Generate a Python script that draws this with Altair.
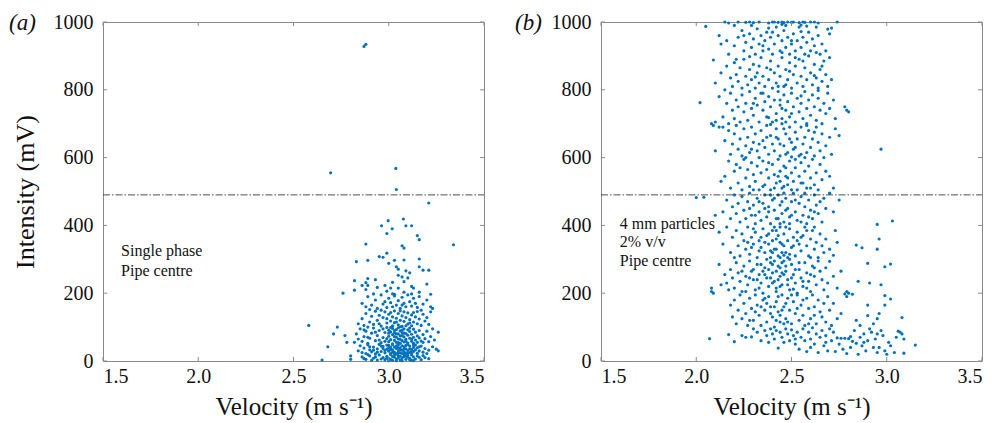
import altair as alt
import pandas as pd

# ---------------- data ----------------
x_ticks = [1.5, 2.0, 2.5, 3.0, 3.5]
y_ticks = [0, 200, 400, 600, 800, 1000]
threshold = 490

# Panel (a): single phase
a_outliers = [(2.87, 928), (2.88, 934), (2.695, 555), (3.037, 568), (3.04, 506), (3.21, 466),
              (3.34, 343), (2.58, 105), (2.65, 3), (2.68, 42), (2.71, 80), (2.73, 100),
              (2.76, 200), (2.77, 75), (2.78, 55), (2.80, 15), (2.80, 5)]
a_upper = [(2.962, 399), (2.997, 414), (3.018, 390), (2.99, 376), (3.077, 419), (3.09, 399),
           (3.12, 399), (3.15, 370), (3.16, 358), (2.88, 345), (3.07, 340), (3.08, 333),
           (2.99, 318), (2.95, 308), (2.97, 306), (2.83, 293), (2.89, 297), (3.03, 297),
           (3.08, 298), (3.16, 301), (3.00, 288), (3.04, 278), (3.16, 278), (3.05, 271),
           (3.09, 266), (3.11, 260), (3.18, 268), (3.21, 268), (3.05, 253), (3.07, 248),
           (2.89, 243), (3.10, 245), (2.82, 237), (2.93, 240), (2.88, 231), (3.02, 232),
           (3.08, 234), (2.86, 223), (2.98, 223), (2.89, 223), (2.94, 217), (3.01, 215),
           (3.05, 215), (3.12, 220), (3.20, 227), (3.13, 215), (2.82, 209), (2.88, 211),
           (2.99, 206), (3.03, 197), (3.08, 203), (3.16, 203), (3.22, 197)]
a_mid = [(2.86, 170), (2.88, 160), (2.89, 190), (2.91, 165), (2.93, 180), (2.94, 155), (2.96, 195),
         (2.97, 168), (2.99, 158), (3.00, 185), (3.01, 172), (3.02, 160), (3.03, 192), (3.04, 165),
         (3.05, 178), (3.06, 155), (3.07, 188), (3.08, 170), (3.09, 160), (3.10, 195), (3.11, 175),
         (3.12, 162), (3.13, 185), (3.14, 170), (3.15, 158), (3.16, 190), (3.18, 168), (3.20, 180),
         (3.22, 160), (2.90, 152), (3.02, 198), (3.12, 198), (2.98, 175), (3.07, 165), (2.92, 198),
         (2.84, 110), (2.86, 125), (2.87, 105), (2.88, 140), (2.90, 115), (2.91, 132), (2.92, 108),
         (2.93, 147), (2.94, 120), (2.95, 135), (2.96, 103), (2.97, 128), (2.98, 145), (2.99, 112),
         (3.00, 138), (3.01, 118), (3.02, 104), (3.02, 130), (3.03, 148), (3.04, 115), (3.04, 126),
         (3.05, 107), (3.05, 140), (3.06, 120), (3.07, 133), (3.07, 102), (3.08, 145), (3.08, 117),
         (3.09, 128), (3.10, 109), (3.10, 142), (3.11, 122), (3.12, 136), (3.12, 104), (3.13, 115),
         (3.14, 130), (3.15, 110), (3.15, 146), (3.16, 124), (3.17, 105), (3.18, 138), (3.19, 118),
         (3.20, 128), (3.21, 108), (3.22, 145), (3.23, 155), (2.96, 150), (3.01, 143), (3.06, 148),
         (3.09, 104), (3.13, 143), (2.99, 125), (3.03, 113), (3.11, 112), (2.89, 100), (3.17, 150),
         (3.06, 101), (2.95, 110)]
a_core = [(2.82, 55), (2.83, 80), (2.84, 65), (2.85, 95), (2.86, 58), (2.87, 72), (2.88, 88),
          (2.89, 52), (2.90, 67), (2.91, 82), (2.92, 97), (2.93, 60), (2.94, 75), (2.95, 90),
          (2.96, 54), (2.97, 69), (2.98, 84), (2.99, 99), (3.00, 57), (3.00, 73), (3.00, 91),
          (3.01, 63), (3.01, 86), (3.02, 51), (3.02, 78), (3.02, 96), (3.03, 61), (3.03, 83),
          (3.04, 55), (3.04, 70), (3.04, 93), (3.05, 65), (3.05, 80), (3.05, 98), (3.06, 52),
          (3.06, 74), (3.06, 89), (3.07, 60), (3.07, 84), (3.08, 56), (3.08, 71), (3.08, 95),
          (3.09, 64), (3.09, 81), (3.10, 53), (3.10, 76), (3.10, 92), (3.11, 67), (3.11, 87),
          (3.12, 58), (3.12, 79), (3.13, 70), (3.13, 94), (3.14, 62), (3.14, 85), (3.15, 55),
          (3.15, 74), (3.16, 68), (3.16, 90), (3.17, 59), (3.18, 78), (3.19, 66), (3.20, 88),
          (3.21, 57), (3.22, 72), (3.24, 62), (3.26, 85), (3.23, 95), (2.95, 62), (2.97, 95),
          (2.99, 66), (3.01, 99), (3.03, 72), (3.05, 54), (3.07, 91), (3.09, 58), (3.11, 97),
          (3.13, 52), (3.03, 90), (2.93, 85), (2.89, 70), (3.07, 75), (2.98, 58), (3.12, 65),
          (2.87, 92), (3.06, 64), (3.18, 55), (3.00, 82), (3.04, 80), (3.08, 82),
          (2.84, 30), (2.85, 45), (2.86, 25), (2.87, 38), (2.88, 22), (2.89, 48), (2.90, 33),
          (2.91, 27), (2.92, 41), (2.93, 21), (2.94, 36), (2.95, 49), (2.96, 28), (2.97, 43),
          (2.98, 24), (2.99, 35), (3.00, 46), (3.00, 29), (3.01, 22), (3.01, 40), (3.02, 33),
          (3.02, 48), (3.03, 26), (3.03, 41), (3.04, 21), (3.04, 37), (3.05, 30), (3.05, 47),
          (3.06, 24), (3.06, 39), (3.07, 32), (3.07, 45), (3.08, 27), (3.08, 42), (3.09, 23),
          (3.09, 36), (3.10, 31), (3.10, 49), (3.11, 25), (3.11, 44), (3.12, 34), (3.12, 22),
          (3.13, 40), (3.13, 28), (3.14, 47), (3.14, 33), (3.15, 23), (3.15, 39), (3.16, 30),
          (3.17, 44), (3.18, 26), (3.19, 37), (3.20, 22), (3.21, 32), (3.23, 42), (3.25, 35),
          (2.98, 31), (2.96, 44), (3.01, 34), (3.04, 45), (3.06, 33), (3.08, 35), (3.03, 21),
          (2.99, 47), (3.02, 26), (3.05, 38), (3.07, 22), (3.09, 46), (3.11, 36), (2.94, 26),
          (2.92, 32), (3.00, 38), (3.10, 24), (3.13, 47), (3.16, 42), (2.90, 42), (3.05, 24),
          (2.97, 37), (3.12, 29), (3.26, 30),
          (2.86, 12), (2.88, 5), (2.90, 15), (2.92, 8), (2.94, 3), (2.95, 18), (2.97, 10),
          (2.98, 4), (2.99, 14), (3.00, 7), (3.01, 19), (3.02, 2), (3.03, 11), (3.04, 6),
          (3.05, 16), (3.06, 3), (3.07, 9), (3.08, 13), (3.09, 5), (3.10, 17), (3.11, 8),
          (3.12, 2), (3.13, 12), (3.14, 6), (3.15, 15), (3.17, 4), (3.19, 10), (3.21, 7),
          (2.89, 19), (2.93, 12), (2.96, 6), (3.00, 1), (3.03, 18), (3.05, 9), (3.07, 1),
          (3.09, 15), (3.12, 18), (3.16, 11), (3.02, 13), (3.06, 14), (2.91, 2), (3.11, 4),
          (3.04, 1), (2.99, 8), (3.08, 19), (3.13, 1), (3.18, 16), (2.87, 7), (3.01, 5), (3.10, 11)]

# Panel (b): 4 mm particles, 2% v/v
b_top = [(2.15, 1000), (2.22, 1000), (2.26, 999), (2.28, 1000), (2.30, 998), (2.33, 1000),
         (2.38, 997), (2.40, 1000), (2.41, 1000), (2.43, 999), (2.45, 1000), (2.46, 998),
         (2.48, 1000), (2.50, 999), (2.51, 1000), (2.54, 998), (2.56, 1000), (2.57, 999),
         (2.60, 1000), (2.62, 1000), (2.64, 997), (2.74, 1000),
         (2.05, 987), (2.17, 997), (2.20, 990), (2.45, 993), (2.55, 991), (2.63, 985),
         (2.71, 982), (2.69, 979)]
b_900 = [(2.12, 960), (2.13, 935), (2.16, 945), (2.17, 905), (2.20, 930), (2.22, 955), (2.24, 975),
         (2.25, 915), (2.26, 940), (2.28, 965), (2.29, 925), (2.30, 950), (2.31, 905), (2.32, 980),
         (2.33, 935), (2.34, 960), (2.35, 915), (2.36, 945), (2.37, 970), (2.38, 920), (2.39, 955),
         (2.40, 905), (2.41, 935), (2.42, 985), (2.43, 960), (2.44, 915), (2.45, 945), (2.46, 975),
         (2.47, 925), (2.48, 955), (2.49, 905), (2.50, 935), (2.51, 965), (2.52, 915), (2.53, 945),
         (2.54, 985), (2.55, 925), (2.56, 955), (2.57, 905), (2.58, 940), (2.59, 970), (2.60, 915),
         (2.61, 950), (2.62, 930), (2.63, 910), (2.64, 960), (2.65, 905), (2.66, 935), (2.68, 915),
         (2.70, 965), (2.29, 990), (2.38, 982), (2.47, 990), (2.58, 988), (2.25, 960), (2.40, 970),
         (2.50, 945), (2.35, 930), (2.45, 910), (2.55, 972), (2.09, 888)]
b_800 = [(2.10, 820), (2.13, 850), (2.15, 800), (2.16, 870), (2.18, 835), (2.19, 810), (2.20, 880),
         (2.21, 845), (2.22, 825), (2.23, 865), (2.24, 805), (2.25, 890), (2.26, 840), (2.27, 815),
         (2.28, 860), (2.29, 830), (2.30, 875), (2.31, 805), (2.32, 850), (2.33, 820), (2.34, 895),
         (2.35, 840), (2.36, 810), (2.37, 865), (2.38, 830), (2.39, 885), (2.40, 805), (2.41, 850),
         (2.42, 820), (2.43, 870), (2.44, 840), (2.45, 895), (2.46, 810), (2.47, 860), (2.48, 830),
         (2.49, 880), (2.50, 805), (2.51, 845), (2.52, 870), (2.53, 820), (2.54, 890), (2.55, 840),
         (2.56, 810), (2.57, 865), (2.58, 830), (2.59, 900), (2.60, 850), (2.61, 815), (2.62, 875),
         (2.63, 835), (2.64, 805), (2.65, 860), (2.66, 825), (2.67, 885), (2.68, 845), (2.69, 810),
         (2.70, 895), (2.66, 870), (2.28, 898), (2.39, 860), (2.47, 815), (2.56, 885), (2.33, 870),
         (2.43, 810), (2.52, 895), (2.62, 842), (2.21, 890), (2.71, 830), (2.31, 838), (2.49, 855)]
b_700 = [(2.08, 700), (2.10, 705), (2.12, 780), (2.14, 720), (2.16, 760), (2.17, 700), (2.18, 790),
         (2.19, 740), (2.20, 715), (2.21, 770), (2.22, 750), (2.23, 705), (2.24, 785), (2.25, 735),
         (2.26, 760), (2.27, 710), (2.28, 795), (2.29, 745), (2.30, 725), (2.31, 775), (2.32, 755),
         (2.33, 705), (2.34, 790), (2.35, 740), (2.36, 765), (2.37, 720), (2.38, 780), (2.39, 750),
         (2.40, 705), (2.41, 770), (2.42, 730), (2.43, 795), (2.44, 755), (2.45, 715), (2.46, 785),
         (2.47, 740), (2.48, 765), (2.49, 720), (2.50, 790), (2.51, 750), (2.52, 705), (2.53, 775),
         (2.54, 735), (2.55, 760), (2.56, 715), (2.57, 795), (2.58, 745), (2.59, 770), (2.60, 725),
         (2.61, 785), (2.62, 750), (2.63, 710), (2.64, 775), (2.65, 740), (2.66, 700), (2.67, 760),
         (2.68, 730), (2.69, 790), (2.70, 745), (2.72, 770), (2.73, 715), (2.42, 710), (2.45, 745),
         (2.47, 705), (2.38, 718), (2.35, 790), (2.50, 730), (2.55, 782), (2.44, 770), (2.30, 760),
         (2.58, 700), (2.64, 798), (2.02, 762), (2.78, 750), (2.79, 740), (2.80, 735), (2.09, 695),
         (2.14, 690)]
b_600 = [(2.10, 620), (2.12, 690), (2.15, 650), (2.17, 680), (2.18, 610), (2.19, 640), (2.20, 670),
         (2.21, 695), (2.22, 625), (2.23, 655), (2.24, 605), (2.25, 685), (2.26, 635), (2.27, 660),
         (2.28, 615), (2.29, 690), (2.30, 645), (2.31, 670), (2.32, 620), (2.33, 600), (2.34, 680),
         (2.35, 650), (2.36, 630), (2.37, 695), (2.38, 610), (2.39, 665), (2.40, 640), (2.41, 620),
         (2.42, 685), (2.43, 655), (2.44, 605), (2.45, 700), (2.46, 635), (2.47, 670), (2.48, 615),
         (2.49, 690), (2.50, 645), (2.51, 625), (2.52, 675), (2.53, 655), (2.54, 605), (2.55, 690),
         (2.56, 640), (2.57, 660), (2.58, 615), (2.59, 680), (2.60, 630), (2.61, 655), (2.62, 605),
         (2.63, 690), (2.64, 645), (2.65, 620), (2.66, 670), (2.67, 600), (2.68, 635), (2.70, 660),
         (2.71, 610), (2.73, 685), (2.75, 665), (2.97, 625), (2.44, 640), (2.47, 610), (2.49, 655),
         (2.42, 660), (2.52, 630), (2.55, 610), (2.37, 660), (2.33, 640), (2.29, 625), (2.58, 695),
         (2.39, 698), (2.46, 685), (2.50, 602), (2.62, 675), (2.26, 600)]
b_500 = [(2.13, 530), (2.15, 545), (2.17, 590), (2.18, 510), (2.20, 560), (2.21, 580), (2.22, 525),
         (2.23, 570), (2.24, 505), (2.25, 595), (2.26, 540), (2.27, 565), (2.28, 515), (2.29, 585),
         (2.30, 550), (2.31, 530), (2.32, 575), (2.33, 505), (2.34, 555), (2.35, 590), (2.36, 520),
         (2.37, 565), (2.38, 540), (2.39, 505), (2.40, 580), (2.41, 550), (2.42, 525), (2.43, 595),
         (2.44, 560), (2.45, 510), (2.46, 575), (2.47, 545), (2.48, 520), (2.49, 590), (2.50, 555),
         (2.51, 530), (2.52, 570), (2.53, 505), (2.54, 545), (2.55, 585), (2.56, 525), (2.57, 560),
         (2.58, 510), (2.59, 575), (2.60, 540), (2.61, 595), (2.62, 520), (2.63, 555), (2.64, 505),
         (2.65, 580), (2.66, 535), (2.68, 560), (2.70, 545), (2.72, 510), (2.44, 530), (2.46, 515),
         (2.48, 540), (2.43, 545), (2.47, 570), (2.50, 505), (2.41, 510), (2.52, 595), (2.38, 585),
         (2.55, 525), (2.57, 600), (2.35, 515), (2.30, 505), (2.60, 510)]
b_400 = [(2.00, 482), (2.04, 483), (2.10, 430), (2.14, 440), (2.16, 475), (2.18, 420), (2.19, 455),
         (2.20, 490), (2.21, 435), (2.22, 465), (2.23, 410), (2.24, 485), (2.25, 445), (2.26, 420),
         (2.27, 470), (2.28, 495), (2.29, 430), (2.30, 460), (2.31, 405), (2.32, 480), (2.33, 440),
         (2.34, 415), (2.35, 465), (2.36, 490), (2.37, 425), (2.38, 455), (2.39, 405), (2.40, 475),
         (2.41, 445), (2.42, 420), (2.43, 490), (2.44, 460), (2.45, 435), (2.46, 410), (2.47, 480),
         (2.48, 450), (2.49, 425), (2.50, 470), (2.51, 495), (2.52, 440), (2.53, 415), (2.54, 465),
         (2.55, 485), (2.56, 430), (2.57, 455), (2.58, 405), (2.59, 475), (2.60, 445), (2.61, 420),
         (2.62, 490), (2.63, 460), (2.64, 435), (2.65, 470), (2.66, 410), (2.67, 480), (2.68, 450),
         (2.70, 495), (2.72, 440), (2.75, 475), (2.45, 470), (2.47, 445), (2.43, 420), (2.49, 405),
         (2.41, 480), (2.52, 475), (2.38, 440), (2.55, 410), (2.57, 495), (2.62, 440), (2.33, 470),
         (2.36, 450), (2.44, 405), (2.50, 430), (2.46, 495), (2.39, 490), (2.28, 450), (2.31, 430),
         (2.59, 425), (3.03, 413), (2.95, 403)]
b_300 = [(2.12, 380), (2.14, 345), (2.16, 395), (2.18, 320), (2.19, 365), (2.20, 305), (2.21, 385),
         (2.22, 340), (2.23, 310), (2.24, 375), (2.25, 355), (2.26, 330), (2.27, 395), (2.28, 315),
         (2.29, 365), (2.30, 345), (2.31, 380), (2.32, 305), (2.33, 355), (2.34, 335), (2.35, 390),
         (2.36, 320), (2.37, 370), (2.38, 345), (2.39, 305), (2.40, 385), (2.41, 330), (2.42, 360),
         (2.43, 310), (2.44, 395), (2.45, 345), (2.46, 375), (2.47, 320), (2.48, 355), (2.49, 390),
         (2.50, 335), (2.51, 365), (2.52, 310), (2.53, 380), (2.54, 345), (2.55, 325), (2.56, 370),
         (2.57, 395), (2.58, 340), (2.59, 310), (2.60, 360), (2.61, 385), (2.62, 330), (2.63, 350),
         (2.64, 305), (2.65, 375), (2.66, 340), (2.67, 320), (2.68, 360), (2.70, 330), (2.72, 312),
         (2.74, 350), (2.42, 330), (2.44, 305), (2.46, 340), (2.40, 355), (2.38, 375), (2.43, 370),
         (2.45, 320), (2.47, 395), (2.49, 315), (2.36, 350), (2.34, 365), (2.41, 395), (2.39, 325),
         (2.48, 305), (2.51, 340), (2.53, 355), (2.33, 325), (2.30, 390), (2.27, 350), (2.55, 365),
         (2.58, 385), (2.62, 395), (2.29, 335), (2.96, 360), (2.95, 330), (2.84, 342), (2.87, 334),
         (2.73, 385), (2.60, 305), (2.44, 350), (2.42, 385), (2.46, 312), (2.40, 320)]
b_200 = [(2.08, 205), (2.08, 215), (2.09, 200), (2.12, 285), (2.13, 225), (2.15, 255), (2.16, 230),
         (2.17, 210), (2.18, 270), (2.19, 245), (2.20, 215), (2.21, 290), (2.22, 260), (2.23, 235),
         (2.24, 205), (2.25, 280), (2.26, 250), (2.27, 225), (2.28, 295), (2.29, 265), (2.30, 240),
         (2.31, 210), (2.32, 285), (2.33, 255), (2.34, 230), (2.35, 200), (2.36, 275), (2.37, 245),
         (2.38, 220), (2.39, 290), (2.40, 260), (2.41, 235), (2.42, 205), (2.43, 280), (2.44, 250),
         (2.45, 225), (2.46, 295), (2.47, 265), (2.48, 240), (2.49, 210), (2.50, 285), (2.51, 255),
         (2.52, 230), (2.53, 200), (2.54, 270), (2.55, 245), (2.56, 220), (2.57, 290), (2.58, 260),
         (2.59, 235), (2.60, 205), (2.61, 280), (2.62, 250), (2.63, 225), (2.64, 295), (2.65, 265),
         (2.66, 240), (2.67, 210), (2.68, 275), (2.69, 230), (2.70, 294), (2.72, 250), (2.74, 215),
         (2.76, 265), (2.79, 205), (2.80, 200), (2.85, 235), (2.90, 288), (2.91, 230), (2.97, 225),
         (3.02, 286), (2.99, 278), (2.38, 270), (2.40, 285), (2.42, 265), (2.44, 275), (2.46, 255),
         (2.41, 295), (2.43, 240), (2.45, 260), (2.47, 280), (2.39, 245), (2.37, 300), (2.36, 255),
         (2.34, 285), (2.32, 240), (2.30, 270), (2.48, 225), (2.50, 245), (2.52, 270), (2.54, 290),
         (2.56, 235), (2.58, 215), (2.60, 255), (2.62, 275), (2.44, 220), (2.42, 215), (2.35, 265),
         (2.28, 245), (2.26, 205), (2.24, 265), (2.45, 290), (2.49, 300), (2.40, 230), (2.33, 215),
         (2.51, 212)]
b_100 = [(2.18, 165), (2.19, 130), (2.20, 180), (2.21, 110), (2.22, 150), (2.23, 195), (2.24, 125),
         (2.25, 170), (2.26, 140), (2.27, 105), (2.28, 185), (2.29, 155), (2.30, 120), (2.31, 195),
         (2.32, 165), (2.33, 135), (2.34, 105), (2.35, 180), (2.36, 150), (2.37, 115), (2.38, 190),
         (2.39, 160), (2.40, 130), (2.41, 100), (2.42, 175), (2.43, 145), (2.44, 115), (2.45, 195),
         (2.46, 160), (2.47, 125), (2.48, 185), (2.49, 150), (2.50, 110), (2.51, 175), (2.52, 140),
         (2.53, 195), (2.54, 120), (2.55, 165), (2.56, 135), (2.57, 105), (2.58, 185), (2.59, 155),
         (2.60, 125), (2.61, 195), (2.62, 160), (2.63, 110), (2.64, 180), (2.65, 145), (2.66, 130),
         (2.67, 170), (2.68, 115), (2.69, 190), (2.70, 150), (2.71, 105), (2.72, 170), (2.74, 125),
         (2.76, 140), (2.78, 198), (2.79, 190), (2.82, 197), (2.84, 120), (2.86, 105), (2.90, 165),
         (2.90, 134), (2.93, 110), (2.96, 140), (2.99, 193), (2.99, 165), (3.02, 183), (3.08, 128),
         (2.95, 125), (2.41, 160), (2.43, 190), (2.45, 150), (2.39, 140), (2.36, 185), (2.47, 170),
         (2.44, 135), (2.50, 195), (2.34, 160), (2.31, 145), (2.53, 155), (2.56, 180), (2.28, 120),
         (2.48, 115), (2.37, 170), (2.42, 120), (2.46, 110), (2.59, 110), (2.62, 135)]
b_000 = [(2.07, 66), (2.17, 78), (2.20, 57), (2.24, 75), (2.26, 70), (2.29, 71), (2.30, 95),
         (2.32, 85), (2.34, 60), (2.36, 90), (2.37, 75), (2.38, 55), (2.39, 95), (2.40, 80),
         (2.41, 65), (2.42, 90), (2.43, 38), (2.44, 85), (2.45, 70), (2.46, 55), (2.47, 95),
         (2.48, 80), (2.49, 60), (2.50, 92), (2.51, 75), (2.52, 50), (2.53, 85), (2.54, 35),
         (2.55, 70), (2.56, 95), (2.57, 60), (2.58, 28), (2.59, 85), (2.60, 65), (2.61, 98),
         (2.62, 50), (2.63, 80), (2.64, 25), (2.65, 70), (2.66, 90), (2.67, 45), (2.68, 75),
         (2.69, 30), (2.70, 95), (2.71, 60), (2.72, 85), (2.73, 28), (2.74, 68), (2.75, 50),
         (2.76, 67), (2.77, 35), (2.78, 67), (2.79, 22), (2.80, 66), (2.81, 40), (2.82, 58),
         (2.83, 90), (2.84, 52), (2.85, 20), (2.86, 70), (2.87, 45), (2.88, 80), (2.89, 30),
         (2.90, 60), (2.91, 95), (2.92, 85), (2.93, 40), (2.94, 65), (2.95, 25), (2.96, 40),
         (2.97, 90), (2.98, 75), (2.99, 30), (3.00, 20), (3.01, 55), (3.02, 45), (3.04, 25),
         (3.05, 70), (3.06, 88), (3.07, 85), (3.08, 80), (3.09, 23), (3.09, 65), (3.15, 47),
         (2.81, 72), (2.88, 55), (2.95, 80), (2.68, 55), (2.60, 40), (2.52, 65)]

panel_a_pts = a_outliers + a_upper + a_mid + a_core
panel_b_pts = b_top + b_900 + b_800 + b_700 + b_600 + b_500 + b_400 + b_300 + b_200 + b_100 + b_000

# annotations: (velocity, intensity, text)
notes_a = [(1.595, 324, "Single phase"), (1.595, 265, "Pipe centre")]
notes_b = [(1.599, 403, "4 mm particles"), (1.599, 350, "2% v/v"), (1.599, 296, "Pipe centre")]

# ---------------- styling ----------------
W, H = 381, 339
FONT = "Liberation Serif"
BLUE = "#0072BD"
FRAME = "#8a8a8a"
TICK_LEN = 4


def panel(points, notes, letter, show_ytitle):
    df = pd.DataFrame(points, columns=["v", "i"])
    xs = alt.Scale(domain=[1.5, 3.5], nice=False, zero=False)
    ys = alt.Scale(domain=[0, 1000], nice=False)

    x_axis = alt.Axis(values=x_ticks, format=".1f", title="Velocity (m s⁻¹)",
                      grid=False, ticks=False, domain=False, labelFont=FONT, labelFontSize=20,
                      labelColor="#111", labelPadding=5, titleFont=FONT, titleFontSize=25,
                      titleFontWeight="normal", titleColor="#111", titleBaseline="alphabetic",
                      titleY=53)
    y_axis = alt.Axis(values=y_ticks, format="d",
                      title="Intensity (mV)" if show_ytitle else None,
                      grid=False, ticks=False, domain=False, labelFont=FONT, labelFontSize=20,
                      labelColor="#111", labelPadding=10, titleFont=FONT, titleFontSize=26,
                      titleFontWeight="normal", titleColor="#111", titleBaseline="alphabetic",
                      titleX=-70, titleY=H / 2, titleAngle=270)

    pts = alt.Chart(df).mark_circle(size=10, color=BLUE, opacity=1).encode(
        x=alt.X("v:Q", scale=xs, axis=x_axis),
        y=alt.Y("i:Q", scale=ys, axis=y_axis),
    )

    thr = alt.Chart(pd.DataFrame({"y": [threshold]})).mark_rule(
        color="#222", strokeWidth=0.8, strokeDash=[7, 2, 1.5, 2]
    ).encode(y=alt.Y("y:Q", scale=ys), x=alt.value(0), x2=alt.value(W))

    xt = pd.DataFrame({"t": x_ticks})
    yt = pd.DataFrame({"t": y_ticks})
    tick_style = dict(color=FRAME, strokeWidth=1)
    tb = alt.Chart(xt).mark_rule(**tick_style).encode(
        x=alt.X("t:Q", scale=xs), y=alt.value(H), y2=alt.value(H - TICK_LEN))
    tt = alt.Chart(xt).mark_rule(**tick_style).encode(
        x=alt.X("t:Q", scale=xs), y=alt.value(0), y2=alt.value(TICK_LEN))
    tl = alt.Chart(yt).mark_rule(**tick_style).encode(
        y=alt.Y("t:Q", scale=ys), x=alt.value(0), x2=alt.value(TICK_LEN))
    tr = alt.Chart(yt).mark_rule(**tick_style).encode(
        y=alt.Y("t:Q", scale=ys), x=alt.value(W), x2=alt.value(W - TICK_LEN))

    ndf = pd.DataFrame(notes, columns=["v", "i", "txt"])
    nt = alt.Chart(ndf).mark_text(font=FONT, fontSize=16, align="left", baseline="middle",
                                  color="#111").encode(
        x=alt.X("v:Q", scale=xs), y=alt.Y("i:Q", scale=ys), text="txt:N")

    lab = alt.Chart(pd.DataFrame({"t": [letter]})).mark_text(
        font=FONT, fontSize=23, fontStyle="italic", align="left", baseline="middle",
        color="#111").encode(x=alt.value(-94 if show_ytitle else -86), y=alt.value(1), text="t:N")

    return alt.layer(pts, thr, tb, tt, tl, tr, nt, lab).properties(width=W, height=H)


pa = panel(panel_a_pts, notes_a, "(a)", True)
pb = panel(panel_b_pts, notes_b, "(b)", False)

chart = alt.hconcat(pa, pb, spacing=117, bounds="flush").configure_view(
    stroke=FRAME, strokeWidth=1
).configure_axis(
    labelFont=FONT, titleFont=FONT
).configure_text(
    font=FONT
).properties(padding={"left": 0, "top": 3, "right": 5, "bottom": 0}, background="white")

chart.save("out.html", embed_options={"renderer": "svg", "actions": False})
